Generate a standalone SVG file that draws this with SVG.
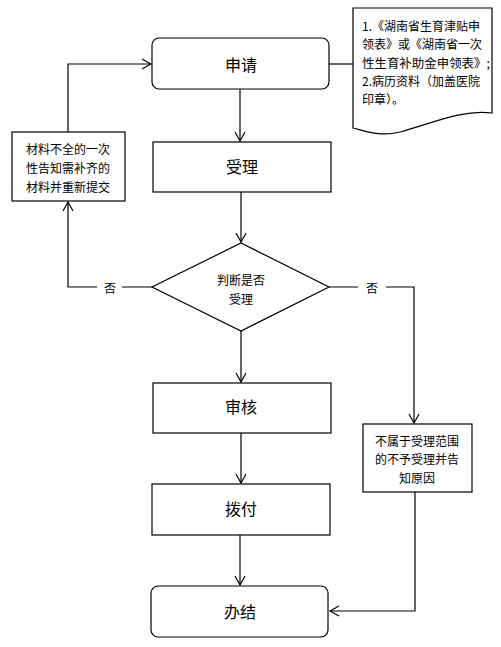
<svg xmlns="http://www.w3.org/2000/svg" width="501" height="647" viewBox="0 0 501 647">
<style>
.s{fill:#fff;stroke:#000;stroke-width:1.2}
.c{fill:none;stroke:#000;stroke-width:1.2}
.t{font-family:"Noto Sans CJK SC","Liberation Sans",sans-serif;fill:#000;text-anchor:middle;dominant-baseline:central}
.b{font-size:16px}
.m{font-size:12px}
.d{font-family:"Noto Sans CJK SC","Liberation Sans",sans-serif;fill:#000;font-size:12px}
</style>
<defs>
<marker id="a" markerWidth="12" markerHeight="12" refX="10" refY="6" orient="auto" markerUnits="userSpaceOnUse">
<path d="M1,1 L10,6 L1,11" fill="none" stroke="#000" stroke-width="1.2"/>
</marker>
</defs>
<rect width="501" height="647" fill="#fff"/>
<g id="connectors">
<path class="c" d="M240,89 V141" marker-end="url(#a)"/>
<path class="c" d="M241,192 V242" marker-end="url(#a)"/>
<path class="c" d="M241,331 V382" marker-end="url(#a)"/>
<path class="c" d="M241,433 V483" marker-end="url(#a)"/>
<path class="c" d="M240,535 V585" marker-end="url(#a)"/>
<path class="c" d="M152,287 H122 M97,287 H68 V202" marker-end="url(#a)"/>
<path class="c" d="M68,132 V64 H151" marker-end="url(#a)"/>
<path class="c" d="M329,287 H358 M386,287 H414 V423" marker-end="url(#a)"/>
<path class="c" d="M415,492 V611 H330" marker-end="url(#a)"/>
<path class="c" d="M329,64 H353"/>
<text class="t m" x="110" y="287">否</text>
<text class="t m" x="372" y="287">否</text>
</g>
<g id="n-apply">
<rect class="s" x="152" y="38" width="177" height="51" rx="7"/>
<text class="t b" x="241" y="64">申请</text>
</g>
<g id="n-doc">
<path class="s" d="M353,8 H492 V113 C462,109 430,124 400,132 C380,137 366,131 353,128 Z"/>
<text class="d" x="362" y="25" dominant-baseline="central">1.《湖南省生育津贴申</text>
<text class="d" x="362" y="43" dominant-baseline="central">领表》或《湖南省一次</text>
<text class="d" x="362" y="62" dominant-baseline="central" textLength="128" lengthAdjust="spacingAndGlyphs">性生育补助金申领表》;</text>
<text class="d" x="362" y="80" dominant-baseline="central">2.病历资料（加盖医院</text>
<text class="d" x="362" y="98" dominant-baseline="central">印章）。</text>
</g>
<g id="n-accept">
<rect class="s" x="153" y="142" width="178" height="50"/>
<text class="t b" x="242" y="166">受理</text>
</g>
<g id="n-resubmit">
<rect class="s" x="12" y="132" width="113" height="69"/>
<text class="t m" x="68" y="148">材料不全的一次</text>
<text class="t m" x="68" y="167">性告知需补齐的</text>
<text class="t m" x="68" y="186">材料并重新提交</text>
</g>
<g id="n-judge">
<path class="s" d="M241,243 L329,287 L241,331 L152,287 Z"/>
<text class="t m" x="241" y="279">判断是否</text>
<text class="t m" x="241" y="298">受理</text>
</g>
<g id="n-review">
<rect class="s" x="153" y="383" width="178" height="50"/>
<text class="t b" x="241" y="406">审核</text>
</g>
<g id="n-reject">
<rect class="s" x="363" y="424" width="109" height="68"/>
<text class="t m" x="417" y="440">不属于受理范围</text>
<text class="t m" x="417" y="458">的不予受理并告</text>
<text class="t m" x="417" y="477">知原因</text>
</g>
<g id="n-pay">
<rect class="s" x="152" y="484" width="178" height="51"/>
<text class="t b" x="241" y="508">拨付</text>
</g>
<g id="n-done">
<rect class="s" x="151" y="586" width="177" height="51" rx="7"/>
<text class="t b" x="240" y="611">办结</text>
</g>
</svg>
